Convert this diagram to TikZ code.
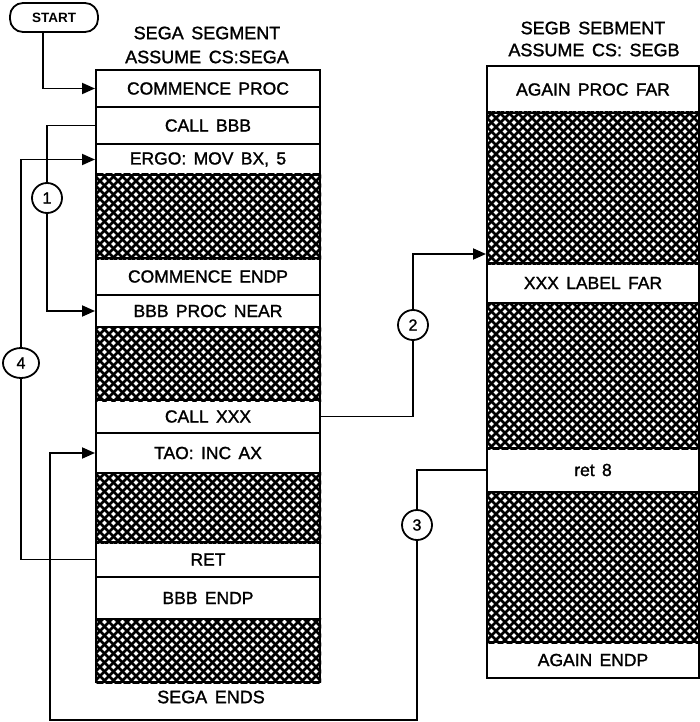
\documentclass[tikz,border=0pt]{standalone}
\usepackage{fontspec}
\setmainfont{Liberation Sans}
\newfontfamily\segfont{Liberation Sans}[BoldFont={Liberation Sans},BoldFeatures={FakeBold=1.4}]
\newcommand{\widesp}{\spaceskip=0.42em\relax}
\usetikzlibrary{arrows.meta,positioning,shapes.geometric}
\tikzset{
  seg/.style={draw,line width=2pt,fill=white,inner sep=0pt,
    font=\segfont\bfseries\fontsize{17.5}{20}\selectfont\widesp},
  segA/.style={seg,minimum width=224pt},
  segB/.style={seg,minimum width=212pt},
  hatch/.style={draw,line width=2pt,inner sep=0pt},
  hatchline/.style={line width=2.7pt},
  wire/.style={line width=1.9pt,line join=miter},
  flow/.style={wire,-{Triangle[length=13pt,width=11pt]}},
  marker/.style={circle,draw,line width=1.8pt,fill=white,minimum size=30pt,inner sep=0pt,
    font=\segfont\bfseries\fontsize{16}{18}\selectfont}
}
% cross hatching clipped to a named node
\newcommand{\crosshatch}[1]{%
  \begin{scope}
    \clip (#1.south west) rectangle (#1.north east);
    \foreach \k in {-720,-711,...,702} {
      \draw[hatchline] (\k,0) -- ++(722,722);
      \draw[hatchline] (\k,722) -- ++(722,-722);
    }
  \end{scope}}

\begin{document}
\begin{tikzpicture}[
  x=1pt,y=-1pt,
  segtitle/.style={font=\segfont\bfseries\fontsize{18}{20}\selectfont\widesp,
    align=center,inner sep=0pt},
  startbox/.style={draw,line width=1.8pt,rounded corners=13pt,minimum width=88pt,
    minimum height=29pt,inner sep=0pt,font=\bfseries\fontsize{13.5}{15}\selectfont}
]
\useasboundingbox (0,0) rectangle (700,722);

\node[startbox] (start) at (54,17.5) {START};

% SEGA
\node[segtitle] (titleA1) at (207,33) {SEGA SEGMENT};
\node[segtitle] (titleA2) at (207,57) {ASSUME CS:SEGA};

\node[segA,minimum height=37pt] (commence) at (208,88.5)  {COMMENCE PROC};
\node[segA,minimum height=37pt] (callbbb)  at (208,125.5) {CALL BBB};
\node[segA,minimum height=31pt] (ergo)     at (208,159.5) {ERGO: MOV BX, 5};
\node[hatch,minimum width=224pt,minimum height=83pt] (hatchA1) at (208,216.5) {};
\node[segA,minimum height=37pt] (cendp)    at (208,276.5) {COMMENCE ENDP};
\node[segA,minimum height=32pt] (bbbproc)  at (208,311)   {BBB PROC NEAR};
\node[hatch,minimum width=224pt,minimum height=73pt] (hatchA2) at (208,363.5) {};
\node[segA,minimum height=33pt] (callxxx)  at (208,416.5) {CALL XXX};
\node[segA,minimum height=40pt] (tao)      at (208,453)   {TAO: INC AX};
\node[hatch,minimum width=224pt,minimum height=69pt] (hatchA3) at (208,507.5) {};
\node[segA,minimum height=35pt] (ret)      at (208,559.5) {RET};
\node[segA,minimum height=42pt] (bbbendp)  at (208,598)   {BBB ENDP};
\node[hatch,minimum width=224pt,minimum height=63pt] (hatchA4) at (208,650.5) {};
\node[segtitle] (endsA) at (211,697) {SEGA ENDS};

% SEGB
\node[segtitle] (titleB1) at (593,28) {SEGB SEBMENT};
\node[segtitle] (titleB2) at (594,50) {ASSUME CS: SEGB};

\node[segB,minimum height=47pt] (againproc) at (593,89.5) {AGAIN PROC FAR};
\node[hatch,minimum width=212pt,minimum height=150pt] (hatchB1) at (593,188) {};
\node[segB,minimum height=40pt] (xxxlabel)  at (593,283)  {XXX LABEL FAR};
\node[hatch,minimum width=212pt,minimum height=145pt] (hatchB2) at (593,375.5) {};
\node[segB,minimum height=44pt] (ret8)      at (593,470)  {ret 8};
\node[hatch,minimum width=212pt,minimum height=150pt] (hatchB3) at (593,567) {};
\node[segB,minimum height=36pt] (againendp) at (593,660)  {AGAIN ENDP};

\foreach \h in {hatchA1,hatchA2,hatchA3,hatchA4,hatchB1,hatchB2,hatchB3}
  {\crosshatch{\h}}

% numbered jumps
\node[marker] (m1) at (47,198) {1};
\node[marker,ellipse,minimum width=36pt] (m4) at (21,363) {4};
\node[marker] (m2) at (413,325) {2};
\node[marker] (m3) at (417,525) {3};
\coordinate (bot) at (50,720);

\draw[flow] ([xshift=-11pt]start.south) |- (commence.west);

\draw[wire] (callbbb.west) -| (m1.north);
\draw[flow] (m1.south) |- (bbbproc.west);

\draw[wire] (callxxx.east) -| (m2.south);
\draw[flow] (m2.north) |- ([yshift=8pt]xxxlabel.north west);

\draw[wire] (ret8.west) -| (m3.north);
\draw[flow] (m3.south) |- (bot) |- (tao.west);

\draw[wire] (ret.west) -| (m4.south);
\draw[flow] (m4.north) |- (ergo.west);

\end{tikzpicture}
\end{document}
